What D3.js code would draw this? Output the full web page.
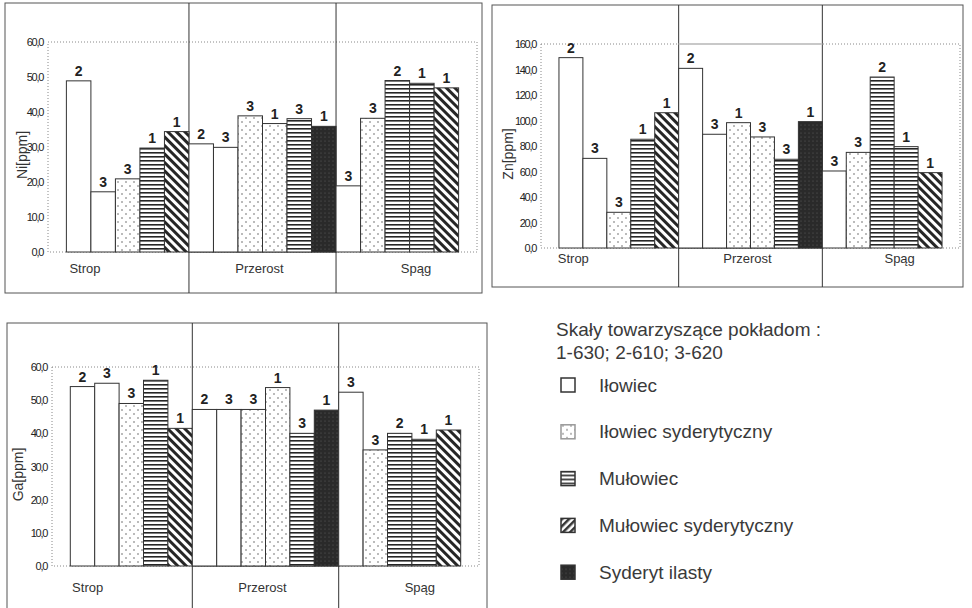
<!DOCTYPE html>
<html>
<head>
<meta charset="utf-8">
<script src="https://cdn.jsdelivr.net/npm/d3@7"></script>
<style>
  body { margin: 0; background: #fff; }
  svg { display: block; font-family: "Liberation Sans", Arial, sans-serif; }
  .tick text { font-size: 11px; letter-spacing: -1.3px; fill: #222; }
  .cat { font-size: 13px; fill: #333; }
  .seam { font-size: 14px; font-weight: bold; fill: #222; }
  .ytitle { font-size: 14px; fill: #333; }
  .legend text { font-size: 19px; fill: #3a3a3a; }
</style>
</head>
<body>
<div id="chart"></div>
<script>
// sections and rock types shared by the three panels
var groups = ["Strop", "Przerost", "Spąg"];
var barGroups = ["Strop","Strop","Strop","Strop","Strop",
                 "Przerost","Przerost","Przerost","Przerost","Przerost","Przerost",
                 "Spąg","Spąg","Spąg","Spąg","Spąg"];
var barRocks = ["il","il","ils","mu","mus",
                "il","il","ils","ils","mu","sy",
                "il","ils","mu","mu","mus"];

// Ni [ppm]
var niValues = [48.9, 17.2, 20.9, 29.7, 34.4, 30.9, 29.9, 38.9, 36.7, 38.1, 35.9, 18.9, 38.2, 49.0, 48.2, 46.9];
var niSeams  = ["2","3","3","1","1", "2","3","3","1","3","1", "3","3","2","1","1"];

// Zn [ppm]
var znValues = [149.3, 70.3, 28.0, 85.3, 106.1, 140.9, 89.2, 98.3, 87.1, 69.6, 99.1, 60.4, 75.0, 134.1, 79.5, 59.1];
var znSeams  = ["2","3","3","1","1", "2","3","1","3","3","1", "3","3","2","1","1"];

// Ga [ppm]
var gaValues = [54.1, 55.1, 49.0, 56.0, 41.5, 47.2, 47.2, 47.2, 53.8, 40.0, 47.0, 52.4, 35.0, 40.0, 38.2, 41.0];
var gaSeams  = ["2","3","3","1","1", "2","3","3","1","3","1", "3","3","2","1","1"];

// legend
var legendTitle = ["Skały towarzyszące pokładom :", "1-630; 2-610; 3-620"];
var legendRocks = ["il", "ils", "mu", "mus", "sy"];
var legendNames = ["Iłowiec", "Iłowiec syderytyczny", "Mułowiec", "Mułowiec syderytyczny", "Syderyt ilasty"];

var rockFill = { il: "#fff", ils: "url(#dots)", mu: "url(#hlines)", mus: "url(#diag)", sy: "url(#dark)" };

var svg = d3.select("#chart").append("svg")
    .attr("width", 972)
    .attr("height", 608);

// hatch patterns
var defs = svg.append("defs");

var p = defs.append("pattern").attr("id", "dots")
    .attr("patternUnits", "userSpaceOnUse").attr("width", 8).attr("height", 8);
p.append("rect").attr("width", 8).attr("height", 8).attr("fill", "#fff");
p.append("circle").attr("cx", 2).attr("cy", 2).attr("r", 0.75).attr("fill", "#555");
p.append("circle").attr("cx", 6).attr("cy", 6).attr("r", 0.75).attr("fill", "#555");

p = defs.append("pattern").attr("id", "hlines")
    .attr("patternUnits", "userSpaceOnUse").attr("width", 4).attr("height", 4);
p.append("rect").attr("width", 4).attr("height", 4).attr("fill", "#fff");
p.append("rect").attr("y", 0).attr("width", 4).attr("height", 1.6).attr("fill", "#262626");

p = defs.append("pattern").attr("id", "diag")
    .attr("patternUnits", "userSpaceOnUse").attr("width", 6).attr("height", 6)
    .attr("patternTransform", "rotate(-45)");
p.append("rect").attr("width", 6).attr("height", 6).attr("fill", "#fff");
p.append("rect").attr("width", 3).attr("height", 6).attr("fill", "#262626");

p = defs.append("pattern").attr("id", "diag2")
    .attr("patternUnits", "userSpaceOnUse").attr("width", 5).attr("height", 5)
    .attr("patternTransform", "rotate(45)");
p.append("rect").attr("width", 5).attr("height", 5).attr("fill", "#fff");
p.append("rect").attr("width", 2.5).attr("height", 5).attr("fill", "#333");

p = defs.append("pattern").attr("id", "dark")
    .attr("patternUnits", "userSpaceOnUse").attr("width", 4).attr("height", 4);
p.append("rect").attr("width", 4).attr("height", 4).attr("fill", "#2a2a2a");
p.append("circle").attr("cx", 1).attr("cy", 1).attr("r", 0.5).attr("fill", "#6a6a6a");

var commaFmt = function(d){ return d3.format(".1f")(d).replace(".", ","); };

function drawPanel(cfg) {
    var g = svg.append("g");

    var x = d3.scaleBand()
        .domain(d3.range(cfg.values.length))
        .range([cfg.plot.l, cfg.plot.r])
        .paddingInner(0)
        .paddingOuter(0.75);

    var y = d3.scaleLinear()
        .domain([0, cfg.max])
        .range([cfg.plot.b, cfg.plot.t]);

    // outer frame
    g.append("rect")
        .attr("x", cfg.box.x).attr("y", cfg.box.y)
        .attr("width", cfg.box.w).attr("height", cfg.box.h)
        .attr("fill", "none").attr("stroke", "#555").attr("stroke-width", 1);

    // dotted plot frame
    g.append("rect")
        .attr("x", cfg.plot.l).attr("y", cfg.plot.t)
        .attr("width", cfg.plot.r - cfg.plot.l).attr("height", cfg.plot.b - cfg.plot.t)
        .attr("fill", "none").attr("stroke", "#888")
        .attr("stroke-dasharray", "1,2");

    // section dividers
    var starts = groups.map(function(gr){ return barGroups.indexOf(gr); });
    var divX = [x(starts[1]), x(starts[2])];
    g.selectAll(".div").data(divX).enter().append("line")
        .attr("x1", function(d){ return d; }).attr("x2", function(d){ return d; })
        .attr("y1", cfg.box.y).attr("y2", cfg.box.y + cfg.box.h)
        .attr("stroke", "#333");

    g.append("line")
        .attr("x1", divX[0]).attr("x2", divX[1])
        .attr("y1", cfg.plot.b).attr("y2", cfg.plot.b)
        .attr("stroke", "#333");

    if (cfg.topLine) {
        g.append("line")
            .attr("x1", divX[0]).attr("x2", divX[1])
            .attr("y1", cfg.plot.t).attr("y2", cfg.plot.t)
            .attr("stroke", "#c8c8c8").attr("stroke-width", 2);
    }

    // bars
    g.selectAll(".bar").data(cfg.values).enter().append("rect")
        .attr("class", "bar")
        .attr("x", function(d, i){ return x(i); })
        .attr("y", function(d){ return y(d); })
        .attr("width", x.bandwidth())
        .attr("height", function(d){ return y(0) - y(d); })
        .attr("fill", function(d, i){ return rockFill[barRocks[i]]; })
        .attr("stroke", "#333").attr("stroke-width", 1);

    // seam numbers
    g.selectAll(".seam").data(cfg.values).enter().append("text")
        .attr("class", "seam")
        .attr("x", function(d, i){ return x(i) + x.bandwidth() / 2; })
        .attr("y", function(d){ return y(d) - 5; })
        .attr("text-anchor", "middle")
        .text(function(d, i){ return cfg.seams[i]; });

    // y axis
    var yAxis = d3.axisLeft(y)
        .tickValues(d3.range(0, cfg.max + 0.001, cfg.step))
        .tickSize(0)
        .tickPadding(5)
        .tickFormat(commaFmt);

    var ax = g.append("g")
        .attr("transform", "translate(" + cfg.plot.l + ",0)")
        .call(yAxis);
    ax.select(".domain").remove();
    ax.selectAll("text").attr("font-family", null).attr("font-size", null);

    g.append("text")
        .attr("class", "ytitle")
        .attr("transform", "translate(" + cfg.titleX + "," + ((cfg.plot.t + cfg.plot.b) / 2 + 8) + ") rotate(-90)")
        .attr("text-anchor", "middle")
        .attr("dy", "0.35em")
        .text(cfg.title);

    // section names
    var edges = [cfg.box.x, divX[0], divX[1], cfg.box.x + cfg.box.w];
    var shift = [-12, -3, 7];
    g.selectAll(".cat").data(groups).enter().append("text")
        .attr("class", "cat")
        .attr("x", function(d, i){ return (edges[i] + edges[i + 1]) / 2 + shift[i]; })
        .attr("y", cfg.catY)
        .attr("dy", "0.35em")
        .attr("text-anchor", "middle")
        .text(function(d){ return d; });
}

drawPanel({ values: niValues, seams: niSeams, max: 60, step: 10, title: "Ni[ppm]", titleX: 22,
            box: { x: 5, y: 3, w: 477, h: 290 },
            plot: { l: 48, t: 42, r: 477, b: 252 }, catY: 268 });

drawPanel({ values: znValues, seams: znSeams, max: 160, step: 20, title: "Zn[ppm]", titleX: 508,
            box: { x: 492, y: 5, w: 471, h: 282 },
            plot: { l: 541, t: 44, r: 960, b: 248 }, catY: 258, topLine: true });

drawPanel({ values: gaValues, seams: gaSeams, max: 60, step: 10, title: "Ga[ppm]", titleX: 18,
            box: { x: 7, y: 323, w: 480, h: 300 },
            plot: { l: 52, t: 367, r: 479, b: 566 }, catY: 587 });

// legend
var leg = svg.append("g").attr("class", "legend");

leg.selectAll(".ltitle").data(legendTitle).enter().append("text")
    .attr("x", 556)
    .attr("y", function(d, i){ return 336 + i * 23; })
    .text(function(d){ return d; });

var item = leg.selectAll(".item").data(legendNames).enter().append("g")
    .attr("transform", function(d, i){ return "translate(561," + (385 + i * 46.8) + ")"; });

item.append("rect")
    .attr("x", 0).attr("y", -7)
    .attr("width", 14).attr("height", 14)
    .attr("fill", function(d, i){
        var r = legendRocks[i];
        return r === "mus" ? "url(#diag2)" : rockFill[r];
    })
    .attr("stroke", function(d, i){ return legendRocks[i] === "ils" ? "#999" : "#333"; })
    .attr("stroke-width", 1.5);

item.append("text")
    .attr("x", 38)
    .attr("dy", "0.35em")
    .text(function(d){ return d; });
</script>
</body>
</html>
